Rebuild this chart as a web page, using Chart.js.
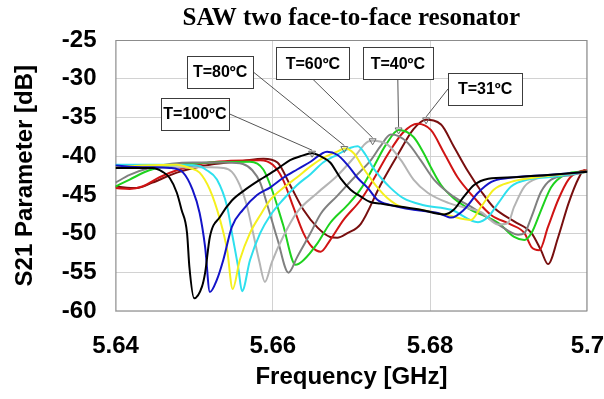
<!DOCTYPE html>
<html>
<head>
<meta charset="utf-8">
<script src="https://cdn.jsdelivr.net/npm/chart.js@4.4.1/dist/chart.umd.min.js"></script>
<style>
    body { margin: 0; background: #fff; }
</style>
</head>
<body>
<canvas id="sawChart" width="604" height="399"></canvas>
<script>
// S21 sweeps. frequency in GHz, S21 in dB
var freqBlack = [5.6400, 5.6418, 5.6447, 5.6460, 5.6469, 5.6478, 5.6484, 5.6491, 5.6494, 5.6500, 5.6510, 5.6514, 5.6520, 5.6533, 5.6548, 5.6565, 5.6584, 5.6597, 5.6609, 5.6622, 5.6635, 5.6650, 5.6661, 5.6673, 5.6686, 5.6699, 5.6712, 5.6724, 5.6737, 5.6763, 5.6788, 5.6818, 5.6830, 5.6843, 5.6856, 5.6874, 5.6907, 5.6950, 5.7000];
var dbBlack = [-41.5, -41.5, -41.5, -42.0, -42.8, -44.7, -46.9, -49.9, -54.3, -58.3, -56.8, -55.0, -50.4, -47.8, -45.7, -44.3, -43.0, -42.2, -41.4, -40.5, -40.0, -39.6, -40.0, -40.8, -42.8, -44.3, -45.2, -45.9, -46.1, -46.5, -46.9, -47.5, -46.9, -45.2, -43.7, -42.9, -42.7, -42.4, -42.0];

var freqBlue = [5.6400, 5.6434, 5.6469, 5.6486, 5.6498, 5.6507, 5.6514, 5.6520, 5.6529, 5.6537, 5.6548, 5.6562, 5.6580, 5.6597, 5.6613, 5.6631, 5.6648, 5.6669, 5.6682, 5.6695, 5.6708, 5.6721, 5.6733, 5.6750, 5.6779, 5.6810, 5.6827, 5.6843, 5.6861, 5.6878, 5.6899, 5.6950, 5.7000];
var dbBlue = [-41.2, -41.4, -41.5, -42.1, -44.3, -47.3, -51.7, -57.5, -55.9, -53.4, -49.1, -46.9, -45.0, -44.0, -42.8, -41.7, -40.7, -39.4, -39.8, -41.1, -42.8, -44.1, -45.6, -46.3, -46.9, -47.3, -47.9, -46.9, -44.7, -43.3, -42.8, -42.4, -42.0];

var freqYellow = [5.6400, 5.6434, 5.6478, 5.6494, 5.6507, 5.6520, 5.6533, 5.6542, 5.6549, 5.6558, 5.6571, 5.6584, 5.6597, 5.6613, 5.6631, 5.6648, 5.6664, 5.6682, 5.6691, 5.6703, 5.6715, 5.6724, 5.6733, 5.6746, 5.6763, 5.6788, 5.6823, 5.6852, 5.6865, 5.6881, 5.6903, 5.6929, 5.7000];
var dbYellow = [-41.4, -41.2, -41.1, -41.5, -42.1, -44.3, -48.2, -52.1, -57.1, -53.4, -49.9, -47.6, -45.6, -44.1, -42.7, -41.3, -40.2, -39.4, -39.0, -39.6, -41.5, -42.8, -44.0, -45.4, -46.5, -46.9, -47.6, -48.2, -46.5, -44.3, -43.3, -42.8, -42.0];

var freqCyan = [5.6400, 5.6456, 5.6503, 5.6516, 5.6529, 5.6542, 5.6549, 5.6556, 5.6561, 5.6571, 5.6584, 5.6597, 5.6613, 5.6631, 5.6648, 5.6664, 5.6682, 5.6699, 5.6708, 5.6718, 5.6727, 5.6737, 5.6750, 5.6766, 5.6792, 5.6827, 5.6861, 5.6874, 5.6887, 5.6903, 5.6925, 5.6950, 5.7000];
var dbCyan = [-41.1, -41.1, -41.2, -41.8, -43.0, -46.5, -50.4, -54.3, -57.4, -53.4, -49.9, -47.6, -45.6, -43.7, -42.3, -40.8, -39.8, -38.9, -38.7, -39.8, -41.4, -42.7, -44.1, -45.4, -46.3, -46.9, -48.5, -47.8, -46.0, -43.9, -43.0, -42.7, -42.0];

var freqLightGrey = [5.6400, 5.6456, 5.6520, 5.6537, 5.6548, 5.6558, 5.6567, 5.6575, 5.6583, 5.6590, 5.6599, 5.6613, 5.6631, 5.6657, 5.6682, 5.6703, 5.6721, 5.6727, 5.6746, 5.6763, 5.6779, 5.6797, 5.6823, 5.6848, 5.6865, 5.6887, 5.6899, 5.6907, 5.6920, 5.6938, 5.6971, 5.7000];
var dbLightGrey = [-41.5, -41.4, -41.4, -41.5, -42.0, -43.7, -46.3, -49.9, -53.6, -56.2, -53.6, -50.4, -47.2, -44.7, -42.5, -40.2, -38.1, -38.0, -38.5, -40.5, -43.0, -44.7, -46.0, -46.7, -47.2, -48.8, -48.6, -46.5, -43.9, -42.8, -42.4, -42.0];

var freqDarkGrey = [5.6400, 5.6418, 5.6443, 5.6498, 5.6542, 5.6562, 5.6574, 5.6584, 5.6594, 5.6606, 5.6620, 5.6631, 5.6648, 5.6661, 5.6682, 5.6703, 5.6724, 5.6737, 5.6750, 5.6760, 5.6772, 5.6788, 5.6805, 5.6830, 5.6852, 5.6887, 5.6912, 5.6920, 5.6929, 5.6941, 5.6954, 5.6980, 5.7000];
var dbDarkGrey = [-43.4, -42.4, -41.5, -40.8, -40.8, -41.0, -41.8, -43.4, -46.6, -50.7, -55.0, -53.0, -49.9, -47.4, -45.1, -42.8, -40.6, -38.7, -37.2, -37.4, -38.3, -40.5, -43.0, -45.2, -46.5, -48.8, -50.1, -49.9, -47.8, -44.6, -43.0, -42.4, -42.0];

var freqGreen = [5.6400, 5.6418, 5.6443, 5.6478, 5.6520, 5.6571, 5.6588, 5.6600, 5.6613, 5.6629, 5.6639, 5.6657, 5.6673, 5.6695, 5.6712, 5.6728, 5.6744, 5.6760, 5.6779, 5.6792, 5.6801, 5.6814, 5.6830, 5.6852, 5.6887, 5.6907, 5.6920, 5.6929, 5.6941, 5.6954, 5.6971, 5.6993, 5.7000];
var dbGreen = [-43.9, -43.0, -41.8, -41.1, -40.8, -40.7, -41.7, -44.6, -48.8, -54.0, -53.4, -51.2, -48.6, -46.3, -44.2, -41.4, -38.5, -36.6, -37.5, -39.6, -41.4, -43.7, -45.4, -46.9, -48.6, -50.4, -50.8, -49.9, -47.0, -44.0, -42.4, -42.0, -42.0];

var freqRed = [5.6400, 5.6418, 5.6434, 5.6456, 5.6478, 5.6520, 5.6584, 5.6600, 5.6613, 5.6626, 5.6639, 5.6650, 5.6661, 5.6673, 5.6690, 5.6712, 5.6728, 5.6746, 5.6766, 5.6784, 5.6801, 5.6818, 5.6835, 5.6855, 5.6878, 5.6903, 5.6920, 5.6929, 5.6939, 5.6950, 5.6963, 5.6976, 5.6989, 5.7000];
var dbRed = [-44.1, -44.2, -43.9, -42.7, -41.8, -40.8, -40.5, -41.1, -43.0, -46.5, -49.9, -51.7, -52.3, -50.8, -48.2, -45.6, -43.0, -39.8, -36.9, -35.8, -36.6, -39.6, -42.7, -45.2, -47.6, -48.8, -49.9, -51.7, -52.1, -49.1, -45.6, -43.0, -42.0, -41.8];

var freqDarkRed = [5.6400, 5.6427, 5.6447, 5.6478, 5.6520, 5.6562, 5.6588, 5.6606, 5.6622, 5.6639, 5.6657, 5.6673, 5.6682, 5.6695, 5.6712, 5.6737, 5.6759, 5.6779, 5.6795, 5.6814, 5.6830, 5.6848, 5.6865, 5.6881, 5.6907, 5.6929, 5.6941, 5.6950, 5.6963, 5.6976, 5.6989, 5.6996, 5.7000];
var dbDarkRed = [-43.9, -44.1, -43.4, -42.1, -41.1, -40.6, -40.3, -40.8, -43.7, -46.9, -49.2, -50.4, -50.5, -49.9, -48.7, -43.7, -39.8, -36.5, -35.3, -35.9, -38.7, -41.9, -44.5, -46.6, -48.4, -49.9, -52.1, -53.9, -50.4, -46.1, -42.8, -41.8, -42.0];

var yTicks = [-60, -55, -50, -45, -40, -35, -30, -25];
var xTicks = [5.64, 5.66, 5.68, 5.7];

// temperature call-outs: which curve they point at (its peak), box centre in data units
var callouts = [
    { text: 'T=100ºC', curve: 'black', boxX: 5.6501, boxY: -34.5, w: 68, side: 'right' },
    { text: 'T=80ºC', curve: 'yellow', boxX: 5.6533, boxY: -29.1, w: 66, side: 'right' },
    { text: 'T=60ºC', curve: 'lightGrey', boxX: 5.6651, boxY: -28.0, w: 73, side: 'bottom' },
    { text: 'T=40ºC', curve: 'green', boxX: 5.6759, boxY: -28.0, w: 70, side: 'bottom' },
    { text: 'T=31ºC', curve: 'darkRed', boxX: 5.6870, boxY: -31.3, w: 74, side: 'left' }
];

var curves = {
    black: { f: freqBlack, db: dbBlack, colour: '#000000' },
    blue: { f: freqBlue, db: dbBlue, colour: '#1414c8' },
    yellow: { f: freqYellow, db: dbYellow, colour: '#f5f01e' },
    cyan: { f: freqCyan, db: dbCyan, colour: '#2ee0ee' },
    lightGrey: { f: freqLightGrey, db: dbLightGrey, colour: '#b4b4b4' },
    darkGrey: { f: freqDarkGrey, db: dbDarkGrey, colour: '#808080' },
    green: { f: freqGreen, db: dbGreen, colour: '#1ed21e' },
    red: { f: freqRed, db: dbRed, colour: '#d01414' },
    darkRed: { f: freqDarkRed, db: dbDarkRed, colour: '#780f0f' }
};
var drawOrder = ['black', 'blue', 'yellow', 'cyan', 'lightGrey', 'darkGrey', 'green', 'red', 'darkRed'];

function toPoints(c) {
    var pts = [];
    for (var i = 0; i < Math.min(c.f.length, c.db.length); i++) {
        pts.push({ x: c.f[i], y: c.db[i] });
    }
    return pts;
}

function peakOf(name) {
    var c = curves[name];
    var best = 0;
    for (var i = 1; i < c.db.length; i++) {
        if (c.db[i] > c.db[best]) best = i;
    }
    return { x: c.f[best], y: c.db[best] };
}

var sans = 'Arial, "Liberation Sans", sans-serif';

var datasets = [{
    label: 'peaks',
    data: callouts.map(function(c) { return peakOf(c.curve); }),
    showLine: false,
    pointStyle: 'triangle',
    rotation: 180,
    pointRadius: 4,
    borderWidth: 1,
    borderColor: '#6e6e6e',
    backgroundColor: 'rgba(255,255,255,0)'
}];
drawOrder.forEach(function(name) {
    datasets.push({
        label: name,
        data: toPoints(curves[name]),
        showLine: true,
        borderColor: curves[name].colour,
        borderWidth: 2,
        pointRadius: 0,
        cubicInterpolationMode: 'monotone',
        fill: false
    });
});

var frameAndCallouts = {
    id: 'frameAndCallouts',
    beforeDatasetsDraw: function(chart) {
        var ctx = chart.ctx;
        var a = chart.chartArea;
        var xs = chart.scales.x, ys = chart.scales.y;
        ctx.save();
        ctx.strokeStyle = '#8c8c8c';
        ctx.lineWidth = 1;
        ctx.strokeRect(a.left + 0.5, a.top + 0.5, a.right - a.left - 1, a.bottom - a.top - 1);

        ctx.font = 'bold 16px ' + sans;
        ctx.textAlign = 'center';
        ctx.textBaseline = 'middle';
        callouts.forEach(function(c) {
            var peak = peakOf(c.curve);
            var px = xs.getPixelForValue(peak.x), py = ys.getPixelForValue(peak.y);
            var bx = xs.getPixelForValue(c.boxX), by = ys.getPixelForValue(c.boxY);
            var h = 32;
            var sx = bx, sy = by;
            if (c.side == 'right') sx = bx + c.w / 2;
            else if (c.side == 'left') sx = bx - c.w / 2;
            else sy = by + h / 2;

            ctx.strokeStyle = '#555';
            ctx.beginPath();
            ctx.moveTo(sx, sy);
            ctx.lineTo(px, py - 3);
            ctx.stroke();

            ctx.fillStyle = '#fff';
            ctx.fillRect(bx - c.w / 2, by - h / 2, c.w, h);
            ctx.strokeStyle = '#3c3c3c';
            ctx.strokeRect(Math.round(bx - c.w / 2) + 0.5, Math.round(by - h / 2) + 0.5, c.w, h);
            ctx.fillStyle = '#000';
            ctx.fillText(c.text, bx, by + 1);
        });
        ctx.restore();
    }
};

var ctx = document.getElementById('sawChart');
var sawChart = new Chart(ctx, {
    type: 'scatter',
    data: { datasets: datasets },
    options: {
        responsive: false,
        animation: false,
        devicePixelRatio: 1,
        layout: { padding: { left: 0, right: 0, top: 0, bottom: 0 } },
        plugins: {
            legend: { display: false },
            tooltip: { enabled: false },
            title: {
                display: true,
                text: 'SAW two face-to-face resonator',
                fullSize: false,
                color: '#000',
                font: { family: '"Times New Roman", "Liberation Serif", serif', size: 25, weight: 'bold' },
                padding: { top: 4, bottom: 6 }
            }
        },
        scales: {
            x: {
                type: 'linear',
                min: 5.64,
                max: 5.7,
                afterBuildTicks: function(axis) {
                    axis.ticks = xTicks.map(function(v) { return { value: v }; });
                },
                ticks: {
                    padding: 0,
                    color: '#000',
                    font: { family: sans, size: 24, weight: 'bold' },
                    callback: function(v) { return String(Math.round(v * 100) / 100); }
                },
                // invisible tick marks keep the labels off the axis
                grid: { color: '#d2d2d2', drawTicks: true, tickLength: 21, tickColor: 'rgba(0,0,0,0)' },
                border: { display: false },
                title: {
                    display: true,
                    text: 'Frequency [GHz]',
                    color: '#000',
                    font: { family: sans, size: 24, weight: 'bold' },
                    padding: { top: 2, bottom: 7 }
                }
            },
            y: {
                min: -60,
                max: -25,
                afterBuildTicks: function(axis) {
                    axis.ticks = yTicks.map(function(v) { return { value: v }; });
                },
                ticks: {
                    padding: 0,
                    color: '#000',
                    font: { family: sans, size: 24, weight: 'bold' }
                },
                grid: { color: '#d2d2d2', drawTicks: true, tickLength: 19, tickColor: 'rgba(0,0,0,0)' },
                border: { display: false },
                title: {
                    display: true,
                    text: 'S21 Parameter [dB]',
                    color: '#000',
                    font: { family: sans, size: 24, weight: 'bold' },
                    padding: { top: 11, bottom: 22 }
                }
            }
        }
    },
    plugins: [frameAndCallouts]
});
</script>
</body>
</html>
